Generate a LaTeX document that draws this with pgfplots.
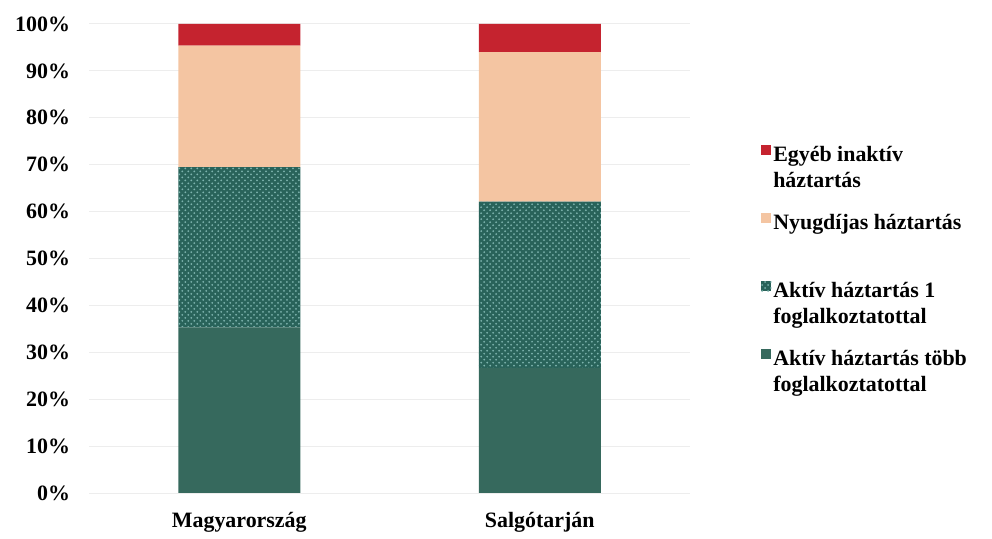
\documentclass[border=0pt]{standalone}
\usepackage{fontspec}
\setmainfont{Liberation Serif}
\usepackage{pgfplots}
\pgfplotsset{compat=1.18}
\usetikzlibrary{patterns}

\definecolor{egyeb}{HTML}{C5232F}
\definecolor{nyugdij}{HTML}{F4C5A2}
\definecolor{aktivegy}{HTML}{29635A}
\definecolor{aktivdot}{HTML}{7DB3AD}
\definecolor{aktivtobb}{HTML}{36695D}

\newcommand{\tworow}[2]{\begin{tabular}[t]{@{}l@{}}#1\\#2\end{tabular}}

\begin{document}
\begin{tikzpicture}
\useasboundingbox (0,0) rectangle (496bp,269.5bp);
\begin{axis}[
  at={(44.5bp,23bp)}, anchor=south west,
  scale only axis,
  width=300.5bp, height=234.5bp,
  ybar stacked,
  bar width=61bp,
  xmin=-0.5, xmax=1.5,
  ymin=0, ymax=100,
  xtick={0,1},
  xticklabels={Magyarország,Salgótarján},
  ytick={0,10,...,100},
  yticklabel={\pgfmathprintnumber{\tick}\%},
  /pgf/number format/assume math mode=true,
  font=\fontsize{11}{13}\selectfont\bfseries,
  ticklabel style={font=\fontsize{11}{13}\selectfont\bfseries},
  yticklabel style={xshift=-6bp},
  xticklabel style={yshift=-6bp},
  axis line style={draw=none},
  major tick length=0pt,
  ymajorgrids,
  grid style={black!7, line width=0.5pt},
  legend style={
    at={(1.108,0.759)}, anchor=north west, draw=none, fill=none,
    row sep=21.5bp,
    nodes={inner sep=1bp, font=\fontsize{11}{13}\selectfont\bfseries},
  },
  legend cell align=left,
  legend image code/.code={
    \fill[#1] (0bp,-0.5bp) rectangle (5bp,4.5bp);
  },
  reverse legend,
]
\addplot[fill=aktivtobb, draw=none] coordinates {(0,35.3) (1,26.6)};
\addplot[fill=aktivegy, draw=none,
  postaction={pattern=crosshatch dots, pattern color=aktivdot}]
  coordinates {(0,34.2) (1,35.5)};
\addplot[fill=nyugdij, draw=none] coordinates {(0,25.9) (1,31.9)};
\addplot[fill=egyeb, draw=none] coordinates {(0,4.6) (1,6.0)};
\legend{{\tworow{Aktív háztartás több}{foglalkoztatottal}},
        {\tworow{Aktív háztartás 1}{foglalkoztatottal}},
        {\tworow{Nyugdíjas háztartás}{\mbox{}}},
        {\tworow{Egyéb inaktív}{háztartás}}}
\end{axis}
\end{tikzpicture}
\end{document}
